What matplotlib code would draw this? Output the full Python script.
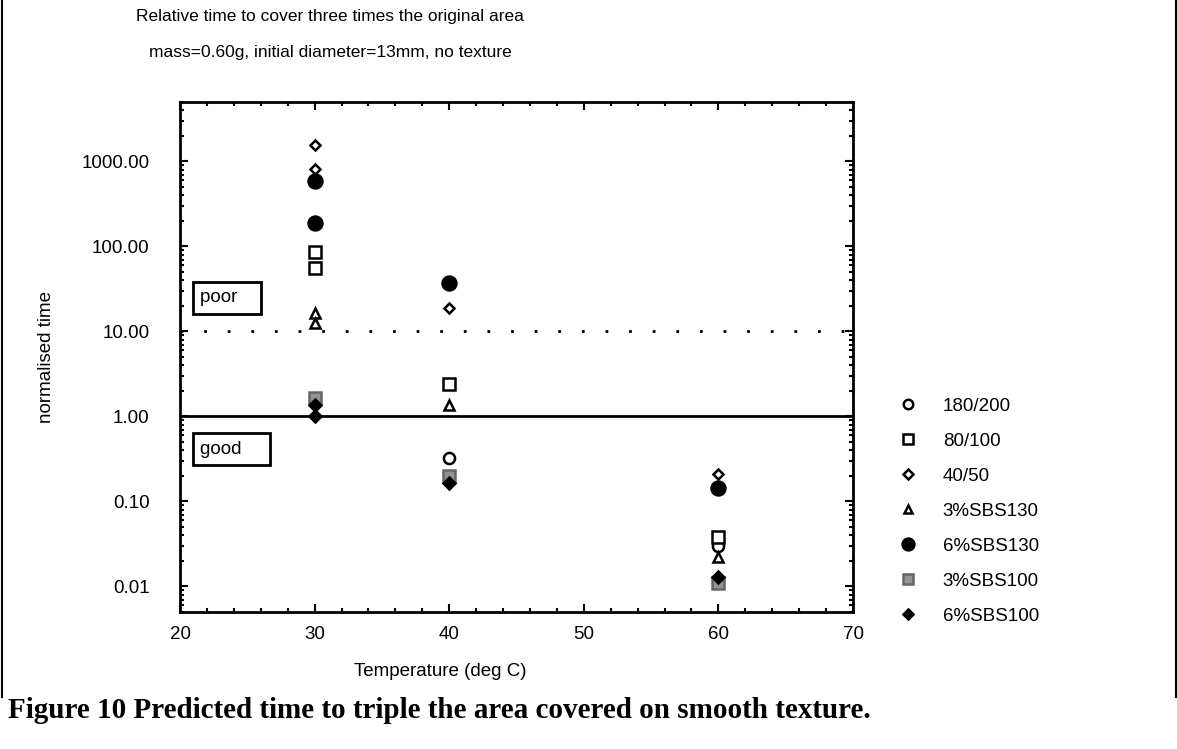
#Import required libraries
import matplotlib.pyplot as plt
import matplotlib.ticker as ticker
from matplotlib.lines import Line2D

#Data (temperature in deg C, normalised time)
temp_180_200 = [40, 60]
time_180_200 = [0.32, 0.03]
temp_80_100 = [30, 30, 40, 60]
time_80_100 = [85, 56, 2.4, 0.038]
temp_40_50 = [30, 30, 40, 60]
time_40_50 = [1550, 820, 19, 0.21]
temp_3sbs130 = [30, 30, 40, 60]
time_3sbs130 = [16.5, 12.5, 1.35, 0.022]
temp_6sbs130 = [30, 30, 40, 60]
time_6sbs130 = [590, 190, 37, 0.145]
temp_3sbs100 = [30, 40, 60]
time_3sbs100 = [1.65, 0.2, 0.011]
temp_6sbs100 = [30, 30, 40, 60]
time_6sbs100 = [1.35, 1.02, 0.165, 0.013]

labels = ['180/200', '80/100', '40/50', '3%SBS130', '6%SBS130', '3%SBS100', '6%SBS100']

plt.rcParams['font.family'] = ['Liberation Sans', 'DejaVu Sans']
fs = 13.5
W, H = 1177, 749

fig = plt.figure(figsize=(11.77, 7.49), dpi=100)
#plot box: left 180, right 853, top 102, bottom 612 (pixels)
ax = fig.add_axes([180/W, 1 - 612/H, 673/W, 510/H])

#Series styles: marker, size, face, edge
styles = [
    ('o', 8, 'white', 'black'),
    ('s', 8.5, 'white', 'black'),
    ('D', 5.5, 'white', 'black'),
    ('^', 7, 'white', 'black'),
    ('o', 10, 'black', 'black'),
    ('s', 8, '#949494', '#666666'),
    ('D', 6, 'black', 'black'),
]
series = [
    (temp_180_200, time_180_200),
    (temp_80_100, time_80_100),
    (temp_40_50, time_40_50),
    (temp_3sbs130, time_3sbs130),
    (temp_6sbs130, time_6sbs130),
    (temp_3sbs100, time_3sbs100),
    (temp_6sbs100, time_6sbs100),
]

#Reference lines
ax.axhline(1, color='black', lw=2, zorder=1)
ax.axhline(10, color='black', lw=2, ls=(0, (1, 7.5)), zorder=1)

handles = []
for (xs, ys), (m, ms, fc, ec), lab in zip(series, styles, labels):
    ax.plot(xs, ys, ls='none', marker=m, ms=ms, mfc=fc, mec=ec, mew=1.8, zorder=3)
    handles.append(Line2D([], [], ls='none', marker=m, ms=ms * 0.85, mfc=fc, mec=ec, mew=1.8, label=lab))

ax.set_yscale('log')
ax.set_xlim(20, 70)
ax.set_ylim(0.005, 5000)
ax.xaxis.set_major_locator(ticker.MultipleLocator(10))
ax.xaxis.set_minor_locator(ticker.MultipleLocator(2))
ax.yaxis.set_major_locator(ticker.LogLocator(base=10, numticks=10))
ax.yaxis.set_minor_locator(ticker.LogLocator(base=10, subs=range(2, 10), numticks=20))
ax.yaxis.set_major_formatter(ticker.FuncFormatter(lambda v, p: f'{v:.2f}'))
ax.yaxis.set_minor_formatter(ticker.NullFormatter())
ax.tick_params(which='both', direction='in', top=True, right=True, labelsize=fs, width=1.5)
ax.tick_params(which='major', length=6)
ax.tick_params(which='minor', length=3)
ax.tick_params(axis='x', which='major', pad=10)
ax.tick_params(axis='y', which='major', pad=22)
for s in ax.spines.values():
    s.set_linewidth(2)

#poor / good boxes
box = dict(boxstyle='square,pad=0.4', fc='white', ec='black', lw=2)
ax.text(0.03, 25, 'poor   ', transform=ax.get_yaxis_transform(), fontsize=fs,
        va='center', ha='left', bbox=box, zorder=4)
ax.text(0.03, 0.41, 'good    ', transform=ax.get_yaxis_transform(), fontsize=fs,
        va='center', ha='left', bbox=box, zorder=4)

ax.set_ylabel('normalised time', fontsize=fs)
ax.yaxis.set_label_coords(-(180 - 55)/673, 0.5)
fig.text(440/W, 1 - 672/H, 'Temperature (deg C)', fontsize=fs, ha='center', va='center')
fig.text(330/W, 1 - 17/H, 'Relative time to cover three times the original area', fontsize=12.5, ha='center', va='center')
fig.text(330/W, 1 - 53/H, 'mass=0.60g, initial diameter=13mm, no texture', fontsize=12.5, ha='center', va='center')

fig.legend(handles=handles, loc='upper left', bbox_to_anchor=(877/W, 1 - 381/H), frameon=False,
           fontsize=fs, labelspacing=0.95, handletextpad=1.1, handlelength=1.5, borderpad=0.4)

#Caption under the plot
fig.text(8/W, 1 - 711/H, 'Figure 10 Predicted time to triple the area covered on smooth texture.',
         fontsize=21, fontweight='bold', family=['Liberation Serif', 'DejaVu Serif'], ha='left', va='center')

#Frame lines on the left and right edges
fig.add_artist(Line2D([1.5/W, 1.5/W], [1 - 697/H, 1], color='black', lw=1.5))
fig.add_artist(Line2D([1175.5/W, 1175.5/W], [1 - 697/H, 1], color='black', lw=1.5))

fig.savefig('out.png', dpi=100)
